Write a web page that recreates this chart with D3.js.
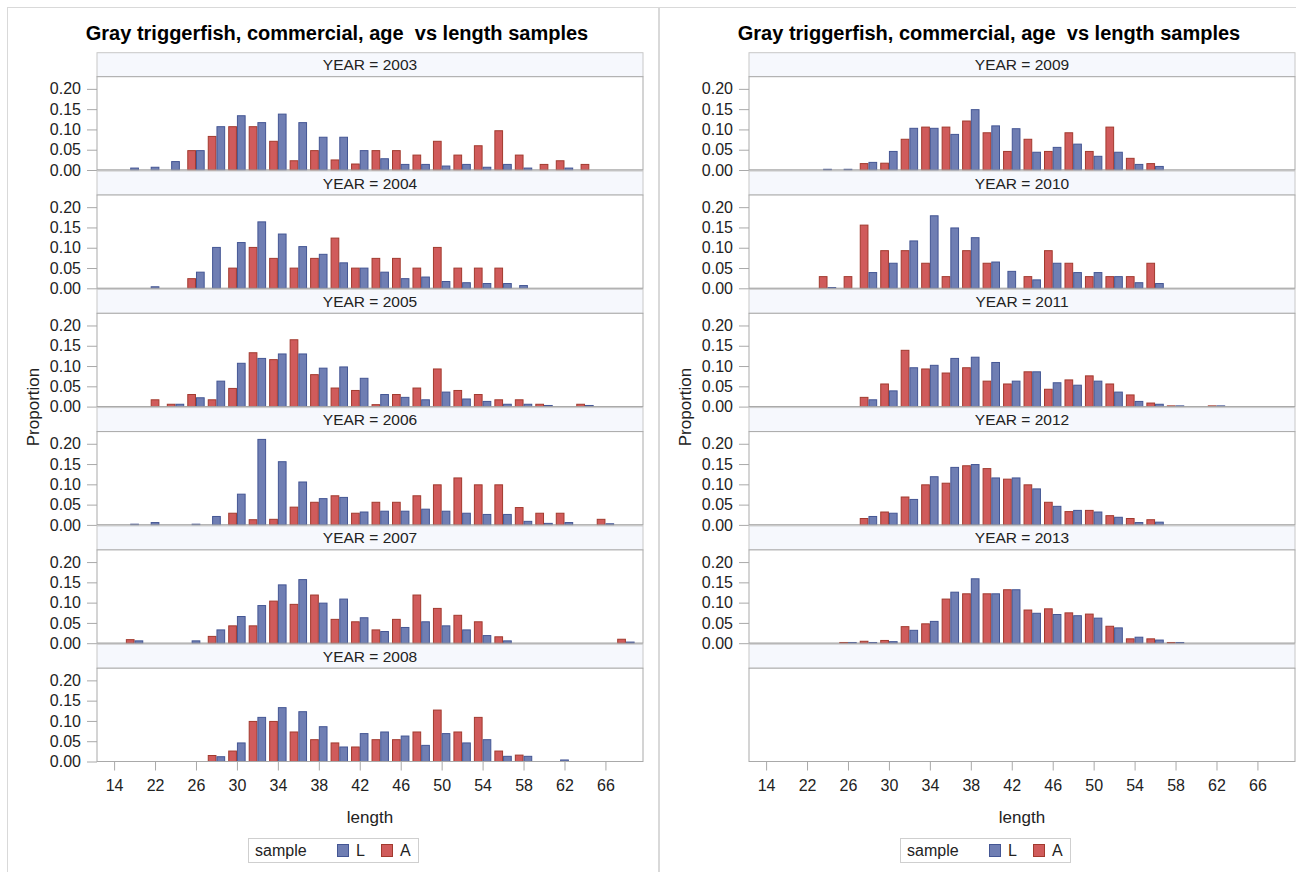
<!DOCTYPE html>
<html>
<head>
<meta charset="utf-8">
<script src="https://cdn.jsdelivr.net/npm/d3@7"></script>
<style>
  body { margin: 0; background: #fff; }
  svg text { font-family: "Liberation Sans", Arial, sans-serif; fill: #222; }
</style>
</head>
<body>
<svg id="chart" width="1296" height="872"></svg>
<script>
// ---- data (proportion by length bin; null = no fish of that sample in the bin)
const lengths = [14, 18, 22, 24, 26, 28, 30, 32, 34, 36, 38, 40, 42, 44, 46, 48, 50, 52, 54, 56, 58, 60, 62, 64, 66, 68];
const tickLabels = [14, 22, 26, 30, 34, 38, 42, 46, 50, 54, 58, 62, 66];
const yTicks = [0, 0.05, 0.10, 0.15, 0.20];
const leftYears = [2003, 2004, 2005, 2006, 2007, 2008];
const rightYears = [2009, 2010, 2011, 2012, 2013];
const samples = ['L', 'A'];
const n = null;

const L2003 = [n, .006, .008, .022, .049, .108, .135, .118, .139, .118, .082, .082, .049, .029, .015, .015, .011, .015, .008, .015, .006, n, .006, n, n, n];
const A2003 = [n, n, n, n, .049, .084, .108, .108, .072, .024, .049, .026, .016, .049, .049, .038, .072, .038, .061, .098, .038, .015, .024, .015, n, n];
const L2004 = [n, n, .005, n, .041, .102, .114, .165, .135, .104, .085, .064, .051, .041, .025, .029, .018, .015, .013, .013, .008, n, n, n, n, n];
const A2004 = [n, n, n, n, .025, n, .051, .102, .075, .051, .075, .125, .051, .075, .075, .051, .102, .051, .051, .051, n, n, n, n, n, n];
const L2005 = [n, n, n, .007, .023, .064, .108, .120, .131, .131, .096, .099, .071, .031, .024, .018, .037, .020, .014, .007, .007, .004, n, .004, n, n];
const A2005 = [n, n, .018, .007, .031, .018, .046, .134, .117, .166, .080, .047, .041, .006, .031, .047, .094, .041, .031, .018, .018, .007, n, .007, n, n];
const L2006 = [n, .003, .007, n, .003, .022, .077, .212, .157, .107, .066, .069, .033, .035, .035, .040, .035, .030, .027, .027, .010, .005, .007, n, .004, n];
const A2006 = [n, n, n, n, n, n, .030, .014, .015, .045, .057, .073, .030, .057, .057, .073, .100, .117, .100, .100, .044, .030, .030, n, .015, n];
const L2007 = [n, .007, n, n, .007, .034, .067, .094, .145, .158, .100, .110, .064, .030, .040, .054, .044, .034, .020, .007, n, n, n, n, n, .004];
const A2007 = [n, .010, n, n, n, .018, .044, .044, .105, .097, .120, .060, .054, .034, .060, .120, .087, .070, .054, .017, n, n, n, n, n, .011];
const L2008 = [n, n, n, n, n, .013, .047, .110, .134, .124, .087, .037, .070, .074, .064, .041, .070, .047, .055, .014, .014, n, .005, n, n, n];
const A2008 = [n, n, n, n, n, .016, .027, .100, .100, .074, .055, .047, .037, .055, .055, .074, .128, .074, .110, .027, .017, n, n, n, n, n];
const L2009 = [n, n, n, .003, .003, .020, .047, .104, .104, .089, .150, .110, .103, .045, .057, .065, .035, .045, .015, .010, n, n, n, n, n, n];
const A2009 = [n, n, n, n, n, .017, .018, .077, .107, .107, .122, .093, .047, .077, .047, .093, .047, .107, .030, .017, n, n, n, n, n, n];
const L2010 = [n, n, n, .003, n, .040, .063, .118, .180, .150, .126, .066, .043, .022, .063, .040, .040, .030, .015, .013, n, n, n, n, n, n];
const A2010 = [n, n, n, .030, .030, .157, .094, .094, .063, .030, .094, .063, n, .030, .094, .063, .030, .030, .030, .063, n, n, n, n, n, n];
const L2011 = [n, n, n, n, n, .018, .040, .097, .103, .120, .123, .110, .064, .087, .060, .054, .064, .037, .014, .007, .003, n, .003, n, n, n];
const A2011 = [n, n, n, n, n, .024, .057, .140, .094, .084, .097, .064, .057, .087, .044, .067, .077, .057, .030, .010, .003, n, .003, n, n, n];
const L2012 = [n, n, n, n, n, .022, .030, .064, .120, .143, .150, .117, .117, .090, .047, .037, .033, .020, .007, .008, n, n, n, n, n, n];
const A2012 = [n, n, n, n, n, .017, .033, .070, .100, .104, .147, .140, .114, .100, .057, .034, .037, .024, .017, .014, n, n, n, n, n, n];
const L2013 = [n, n, n, n, .003, .003, .005, .033, .055, .127, .160, .123, .133, .075, .072, .069, .063, .039, .016, .009, .003, n, n, n, n, n];
const A2013 = [n, n, n, n, .003, .006, .008, .042, .049, .110, .123, .123, .133, .083, .086, .076, .073, .043, .012, .012, .003, n, n, n, n, n];

const byYear = {
    2003: { L: L2003, A: A2003 }, 2004: { L: L2004, A: A2004 }, 2005: { L: L2005, A: A2005 },
    2006: { L: L2006, A: A2006 }, 2007: { L: L2007, A: A2007 }, 2008: { L: L2008, A: A2008 },
    2009: { L: L2009, A: A2009 }, 2010: { L: L2010, A: A2010 }, 2011: { L: L2011, A: A2011 },
    2012: { L: L2012, A: A2012 }, 2013: { L: L2013, A: A2013 }
};

// ---- styles
const fillColor = { L: '#6f7eb3', A: '#d05b5b' };
const lineColor = { L: '#445694', A: '#a23a2e' };
const frameColor = '#a9a9a9';
const headerFill = '#f6f8fd';
const titleText = 'Gray triggerfish, commercial, age  vs length samples';

const svg = d3.select('#chart');

// ---- layout of one panel
const cellTop0 = 52.7;
const cellPitch = 118.3;
const headerH = 24;
const plotH = 93.3;

function drawPanel(off, years) {
    const g = svg.append('g').attr('transform', `translate(${off}, 0)`);

    // outer frame of the panel
    g.append('rect')
        .attr('x', 7.5).attr('y', 7.5)
        .attr('width', 651).attr('height', 900)
        .attr('fill', 'none')
        .attr('stroke', '#d9d9d9');

    g.append('text')
        .attr('x', 337).attr('y', 40)
        .attr('text-anchor', 'middle')
        .style('font-size', '20px')
        .style('font-weight', 'bold')
        .style('white-space', 'pre')
        .style('fill', '#000')
        .text(titleText);

    const x = d3.scalePoint()
        .domain(lengths)
        .range([97, 643])
        .padding(0.835);
    const bw = x.step() * 0.85 / 2;

    for (let r = 0; r < 6; r++) {
        const top = cellTop0 + r * cellPitch;
        const pTop = top + headerH;
        const zero = pTop + plotH;
        const year = years[r];

        g.append('rect')
            .attr('x', 97).attr('y', top)
            .attr('width', 546).attr('height', headerH)
            .attr('fill', headerFill)
            .attr('stroke', '#c8c8c8');

        g.append('rect')
            .attr('x', 97).attr('y', pTop)
            .attr('width', 546).attr('height', plotH)
            .attr('fill', '#fff')
            .attr('stroke', frameColor);

        if (year === undefined) continue;

        g.append('text')
            .attr('x', 370).attr('y', top + 17.5)
            .attr('text-anchor', 'middle')
            .style('font-size', '15.5px')
            .text(`YEAR = ${year}`);

        const y = d3.scaleLinear().domain([0, 0.23]).range([zero, pTop]);

        const yAxis = g.append('g')
            .attr('transform', `translate(97, 0)`)
            .call(d3.axisLeft(y).tickValues(yTicks).tickSize(10).tickPadding(6).tickFormat(d3.format('.2f')));
        yAxis.select('.domain').remove();
        yAxis.selectAll('line').attr('stroke', frameColor);
        yAxis.selectAll('text').style('font-size', '16px').attr('fill', '#222');

        // clustered bars, centred on the bin when only one sample is present
        const bars = [];
        lengths.forEach((len, i) => {
            const present = ['A', 'L'].filter(s => byYear[year][s][i] !== null);
            const start = x(len) - present.length * bw / 2;
            present.forEach((s, k) => bars.push({ s, v: byYear[year][s][i], x0: start + k * bw }));
        });

        g.append('g').selectAll('rect')
            .data(bars)
            .join('rect')
            .attr('x', d => d.x0 + 0.5)
            .attr('y', d => y(d.v) + 0.5)
            .attr('width', bw - 1)
            .attr('height', d => Math.max(0, zero - y(d.v) - 0.5))
            .attr('fill', d => fillColor[d.s])
            .attr('stroke', d => lineColor[d.s])
            .attr('stroke-width', 1);

        // redraw baseline over the bars
        g.append('line')
            .attr('x1', 97).attr('x2', 643)
            .attr('y1', zero).attr('y2', zero)
            .attr('stroke', frameColor);
    }

    // ---- x axis under the last cell
    const axisY = cellTop0 + 5 * cellPitch + headerH + plotH;
    const xAxis = g.append('g')
        .attr('transform', `translate(0, ${axisY})`)
        .call(d3.axisBottom(x).tickValues(tickLabels).tickSize(9).tickPadding(9));
    xAxis.select('.domain').remove();
    xAxis.selectAll('line').attr('stroke', frameColor);
    xAxis.selectAll('text').style('font-size', '16px').attr('fill', '#222');

    g.append('text')
        .attr('x', 370).attr('y', 823)
        .attr('text-anchor', 'middle')
        .style('font-size', '17px')
        .text('length');

    g.append('text')
        .attr('transform', `translate(39, 407) rotate(-90)`)
        .attr('text-anchor', 'middle')
        .style('font-size', '17px')
        .text('Proportion');

    // ---- legend
    const lg = g.append('g').attr('transform', 'translate(248, 838)');
    lg.append('rect')
        .attr('x', 0.5).attr('y', 0.5)
        .attr('width', 170).attr('height', 24)
        .attr('fill', '#fff')
        .attr('stroke', '#cfcfcf');
    lg.append('text').attr('x', 7).attr('y', 18).style('font-size', '16px').text('sample');
    const legendX = { L: 89, A: 133 };
    samples.forEach(s => {
        lg.append('rect')
            .attr('x', legendX[s] + 0.5).attr('y', 6.5)
            .attr('width', 11).attr('height', 12)
            .attr('fill', fillColor[s])
            .attr('stroke', lineColor[s]);
        lg.append('text')
            .attr('x', legendX[s] + 19).attr('y', 18)
            .style('font-size', '16px')
            .text(s);
    });
}

drawPanel(0, leftYears);
drawPanel(652, rightYears);
</script>
</body>
</html>
